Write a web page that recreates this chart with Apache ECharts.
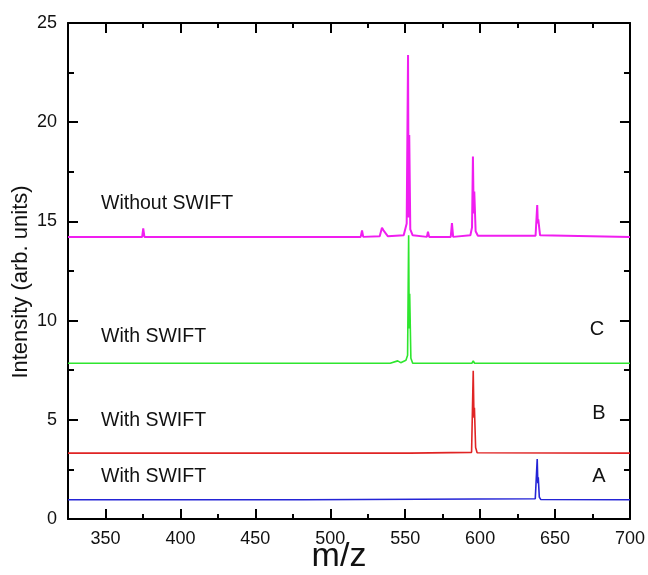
<!DOCTYPE html>
<html>
<head>
<meta charset="utf-8">
<script src="https://cdn.jsdelivr.net/npm/echarts@6/dist/echarts.min.js"></script>
<style>html,body{margin:0;padding:0;background:#fff}#c{width:648px;height:575px}</style>
</head>
<body>
<div id="c"></div>
<script>
// ---- data ----
const xMajorTicks = [350, 400, 450, 500, 550, 600, 650, 700];
const xMinorTicks = [375, 425, 475, 525, 575, 625, 675];

const noSwiftX = [325, 374.5, 375.2, 376, 520.3, 521.2, 522, 533, 534.5, 535.5, 536.6, 538.5, 549, 551, 551.9, 552.3, 552.7, 553.4, 555, 564.5, 565.2, 566, 580.4, 581.2, 582, 593.5, 594.6, 595.2, 595.7, 596.1, 597, 598.5, 637, 638.1, 638.5, 638.8, 640, 700];
const noSwiftY = [14.22, 14.22, 14.65, 14.22, 14.22, 14.55, 14.22, 14.25, 14.68, 14.55, 14.65, 14.25, 14.3, 14.9, 23.39, 15.2, 19.35, 14.6, 14.3, 14.22, 14.48, 14.22, 14.22, 14.92, 14.22, 14.3, 14.7, 18.27, 15.4, 16.5, 14.5, 14.28, 14.28, 15.83, 14.9, 15.1, 14.3, 14.22];

const swiftCX = [325, 520.3, 521.2, 522, 540, 545, 547, 550.5, 551.6, 552.3, 552.7, 553.0, 553.8, 555, 594.5, 595.4, 596.3, 700];
const swiftCY = [7.85, 7.85, 7.95, 7.85, 7.85, 7.97, 7.88, 8.0, 8.25, 14.3, 9.6, 11.35, 8.1, 7.85, 7.85, 7.97, 7.85, 7.85];

const swiftBX = [325, 551, 552, 553, 594.3, 595.4, 595.9, 596.2, 597, 598, 700];
const swiftBY = [3.32, 3.32, 3.42, 3.32, 3.36, 7.47, 5.1, 5.6, 3.6, 3.34, 3.32];

const swiftAX = [325, 480, 481, 482, 636.8, 638.1, 638.5, 638.8, 639.5, 640.5, 700];
const swiftAY = [0.97, 0.97, 1.03, 0.97, 1.02, 3.02, 1.8, 2.1, 1.1, 0.98, 0.97];

const pairs = (xs, ys) => xs.map((x, i) => [x, ys[i]]);

const chart = echarts.init(document.getElementById('c'), null, {renderer: 'canvas'});
const FONT = 'Liberation Sans, Arial, sans-serif';
const axisLine = {show: true, lineStyle: {color: '#000', width: 2}};

const xBase = {
  type: 'value', min: 325, max: 700, splitLine: {show: false}
};
function xAx(pos, ticks, len, labels, lineShow) {
  return Object.assign({}, xBase, {
    position: pos,
    axisLine: lineShow ? axisLine : {show: false},
    axisTick: {show: true, inside: true, length: len, customValues: ticks, lineStyle: {color: '#000', width: 2}},
    axisLabel: labels ? {show: true, customValues: ticks, fontSize: 18, color: '#111', fontFamily: FONT, margin: 11} : {show: false}
  });
}
function yAx(pos, labels) {
  return {
    type: 'value', min: 0, max: 25, interval: 5, position: pos,
    splitLine: {show: false},
    axisLine: axisLine,
    axisTick: {show: true, inside: true, length: 10, lineStyle: {color: '#000', width: 2}},
    minorTick: {show: true, splitNumber: 2, length: 6, lineStyle: {color: '#000', width: 2}},
    axisLabel: labels ? {show: true, fontSize: 18, color: '#111', fontFamily: FONT, margin: 11} : {show: false}
  };
}
function line(data, color, w) {
  return {type: 'line', data: data, showSymbol: false, symbol: 'none', xAxisIndex: 0, yAxisIndex: 0,
    lineStyle: {color: color, width: w}, itemStyle: {color: color}, animation: false, z: 3};
}
function txt(x, y, s, size, align) {
  return {type: 'text', x: x, y: y, style: {text: s, fontSize: size, fontFamily: FONT, fill: '#111', align: align || 'left', verticalAlign: 'middle'}};
}

chart.setOption({
  animation: false,
  backgroundColor: '#fff',
  grid: {left: 68, right: 18, top: 23, bottom: 56, containLabel: false},
  xAxis: [
    xAx('bottom', xMajorTicks, 10, true, true),
    xAx('bottom', xMinorTicks, 5, false, false),
    xAx('top', xMajorTicks, 10, false, true),
    xAx('top', xMinorTicks, 5, false, false)
  ],
  yAxis: [yAx('left', true), yAx('right', false)],
  series: [
    line(pairs(noSwiftX, noSwiftY), '#f01ef0', 2),
    line(pairs(swiftCX, swiftCY), '#2ee62e', 1.6),
    line(pairs(swiftBX, swiftBY), '#e02424', 1.6),
    line(pairs(swiftAX, swiftAY), '#2424d6', 1.6)
  ],
  graphic: [
    txt(101, 204, 'Without SWIFT', 19.5),
    txt(101, 337, 'With SWIFT', 19.5),
    txt(101, 421, 'With SWIFT', 19.5),
    txt(101, 477, 'With SWIFT', 19.5),
    txt(597, 329, 'C', 20, 'center'),
    txt(599, 413, 'B', 20, 'center'),
    txt(599, 476, 'A', 20, 'center'),
    txt(339, 557, 'm/z', 34, 'center'),
    {type: 'text', x: 21, y: 282, rotation: Math.PI / 2,
      style: {text: 'Intensity (arb. units)', fontSize: 22, fontFamily: FONT, fill: '#111', align: 'center', verticalAlign: 'middle'}}
  ]
});
</script>
</body>
</html>
